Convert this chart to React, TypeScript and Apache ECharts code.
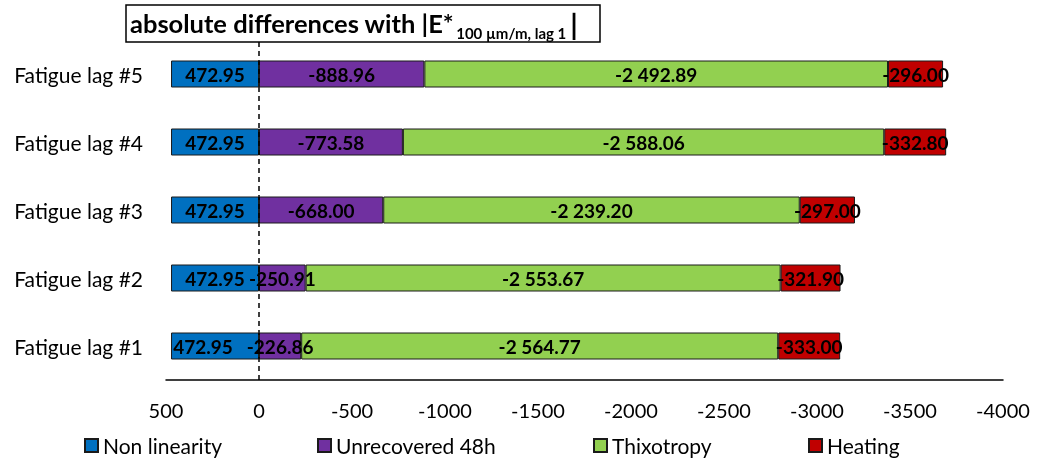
import React, { useEffect, useRef } from "react";
import * as echarts from "echarts";

const categories = ["Fatigue lag #1", "Fatigue lag #2", "Fatigue lag #3", "Fatigue lag #4", "Fatigue lag #5"];
const nonLinearity = [472.95, 472.95, 472.95, 472.95, 472.95];
const unrecovered = [-226.86, -250.91, -668.0, -773.58, -888.96];
const thixotropy = [-2564.77, -2553.67, -2239.2, -2588.06, -2492.89];
const heating = [-333.0, -321.9, -297.0, -332.8, -296.0];
const seriesNames = ["Non linearity", "Unrecovered 48h", "Thixotropy", "Heating"];
const colors = ["#0070C0", "#7030A0", "#92D050", "#C00000"];
const legendLeft = [84, 317, 593, 808];

const FONT = "Lato";

function fmt(v: number): string {
  const sign = v < 0 ? "-" : "";
  const a = Math.abs(v).toFixed(2);
  const [i, d] = a.split(".");
  const ip = i.replace(/\B(?=(\d{3})+(?!\d))/g, " ");
  return sign + ip + "." + d;
}

export default function App() {
  const ref = useRef<HTMLDivElement>(null);
  useEffect(() => {
    if (!ref.current) return;
    const chart = echarts.init(ref.current, undefined, { renderer: "svg" });
    const dataSets = [nonLinearity, unrecovered, thixotropy, heating];
    const series: any[] = dataSets.map((d, k) => ({
      name: seriesNames[k],
      type: "bar",
      stack: "total",
      barWidth: 27,
      data: d.map((v, i) =>
        k === 0 && i === 0 ? { value: v, label: { offset: [-12, 0] } } : v
      ),
      itemStyle: { color: colors[k], borderColor: "#1a1a1a", borderWidth: 1 },
      label: {
        show: true,
        position: "inside",
        formatter: (p: any) => fmt(p.value),
        color: "#000",
        fontFamily: FONT,
        fontWeight: "bold",
        fontSize: 19,
        overflow: "none",
      },
      ...(k === 0
        ? {
            markLine: {
              silent: true,
              symbol: "none",
              label: { show: false },
              lineStyle: { color: "#000", type: [5, 4], width: 1.5 },
              data: [{ xAxis: 0 }],
            },
          }
        : {}),
    }));
    chart.setOption({
      animation: false,
      title: {
        text: "{m|absolute differences with |E*}{s|100 µm/m, lag 1}{b||}",
        left: 126,
        top: 2,
        padding: [4, 22, 2, 4],
        borderColor: "#000",
        borderWidth: 1.5,
        textStyle: {
          rich: {
            m: { fontFamily: FONT, fontWeight: "bold", fontSize: 25.5, color: "#000", lineHeight: 34, verticalAlign: "middle" },
            s: { fontFamily: FONT, fontWeight: "bold", fontSize: 15, color: "#000", lineHeight: 15, verticalAlign: "bottom", padding: [0, 4, 0, 2] },
            b: { fontFamily: FONT, fontWeight: "bold", fontSize: 29, color: "#000", lineHeight: 34, verticalAlign: "middle" },
          },
        },
      },
      legend: seriesNames.map((n, k) => ({
        data: [n],
        left: legendLeft[k],
        top: 435,
        padding: 0,
        icon: "rect",
        itemWidth: 13,
        itemHeight: 13,
        itemGap: 5,
        textStyle: { fontFamily: FONT, fontSize: 21, color: "#000", padding: [0, 0, 0, 0] },
      })),
      grid: { left: 166, right: 34, top: 40, height: 340, containLabel: false },
      xAxis: {
        type: "value",
        min: -4000,
        max: 500,
        interval: 500,
        inverse: true,
        axisLine: { show: true, lineStyle: { color: "#000", width: 1.5 } },
        axisTick: { show: false },
        splitLine: { show: false },
        axisLabel: { color: "#000", fontFamily: FONT, fontSize: 20, margin: 20, formatter: (v: number) => String(v) },
      },
      yAxis: {
        type: "category",
        data: categories,
        axisLine: { show: false },
        axisTick: { show: false },
        axisLabel: { color: "#000", fontFamily: FONT, fontSize: 21, margin: 23 },
      },
      series,
    });
    return () => chart.dispose();
  }, []);
  return <div ref={ref} style={{ position: "fixed", left: 0, top: 0, width: 1037, height: 461 }} />;
}
